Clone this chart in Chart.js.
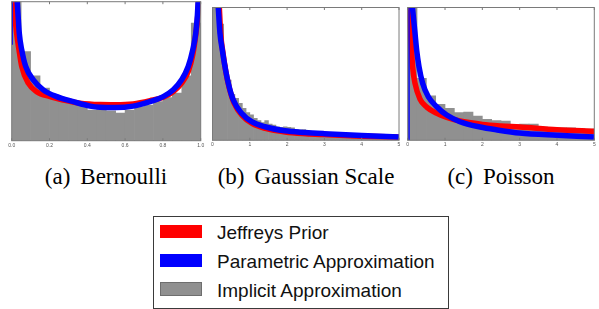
<!DOCTYPE html>
<html>
<head>
<meta charset="utf-8">
<script src="https://cdn.jsdelivr.net/npm/chart.js@4.4.1/dist/chart.umd.min.js"></script>
<style>
  body { margin: 0; background: #fff; width: 599px; height: 309px; overflow: hidden; position: relative; }
  canvas { position: absolute; top: 0; }
  .cap { position: absolute; top: 165px; width: 240px; text-align: center; white-space: nowrap;
         font-family: "Liberation Serif", "Times New Roman", Times, "DejaVu Serif", serif;
         font-size: 23px; line-height: 23px; color: #000; }
  .cap span { margin-left: 10px; }
  #legend { position: absolute; left: 153px; top: 216px; width: 294px; height: 91px; border: 1px solid #3a3a3a; background: #fff; }
  .sw { position: absolute; left: 6px; width: 42px; height: 13px; }
  .lt { position: absolute; left: 63px; font-family: "Liberation Sans", Arial, Helvetica, sans-serif;
        font-size: 19px; line-height: 19px; color: #111; white-space: nowrap; }
</style>
</head>
<body>
<canvas id="bern" width="206" height="152" style="left:0px"></canvas>
<canvas id="gauss" width="196" height="152" style="left:206px"></canvas>
<canvas id="pois" width="197" height="152" style="left:402px"></canvas>

<div class="cap" style="left:-14px">(a)<span>Bernoulli</span></div>
<div class="cap" style="left:186px">(b)<span>Gaussian Scale</span></div>
<div class="cap" style="left:381px">(c)<span>Poisson</span></div>

<div id="legend">
  <div class="sw" style="top:8px;background:#ff0000"></div>
  <div class="lt" style="top:6px">Jeffreys Prior</div>
  <div class="sw" style="top:37px;background:#0000ff"></div>
  <div class="lt" style="top:35px">Parametric Approximation</div>
  <div class="sw" style="top:65px;background:#909090;border:1px solid #6e6e6e;width:40px;height:12px"></div>
  <div class="lt" style="top:64px">Implicit Approximation</div>
</div>

<script>
// values; y is in % of the plot height (100 = top frame)

// (a) Bernoulli
const bernBinWidth = 0.05;
const bernHist = [105, 64.2, 46.6, 37.8, 33, 30.1, 28.1, 25.7, 22.1, 23.4,
                  21.4, 19.8, 22.1, 24.5, 25.7, 28.1, 31, 34.2, 46.6, 84.6];
const bernJeffX = [0.012, 0.0175, 0.026, 0.0386, 0.053, 0.088, 0.132, 0.203, 0.273, 0.361, 0.467,
                   0.55, 0.643, 0.732, 0.802, 0.855, 0.899, 0.934, 0.958, 0.975, 0.984, 0.989];
const bernJeffY = [102, 89.4, 77.4, 65.4, 53.4, 41.4, 35.3, 31.7, 29.3, 27, 26,
                   25.9, 26.5, 28.8, 31.3, 35.3, 41.4, 49.7, 61.8, 77.4, 89.4, 102];
const bernParamX = [0.026, 0.029, 0.04, 0.053, 0.074, 0.114, 0.167, 0.238, 0.326, 0.414, 0.467,
                    0.55, 0.643, 0.732, 0.802, 0.855, 0.899, 0.934, 0.958, 0.974, 0.982, 0.987];
const bernParamY = [104, 100, 77.4, 65.4, 53.4, 43.8, 36.6, 31.7, 28.1, 24.9, 24,
                    23.8, 24.9, 28.1, 31.7, 36.6, 43.8, 53.4, 65.4, 77.4, 89.4, 102];
const bernStartX = [0.003, 0.003];
const bernStartY = [69, 102];
const bernTicks = ['0.0', '0.2', '0.4', '0.6', '0.8', '1.0'];

// (b) Gaussian Scale
const gaussBinWidth = 0.1;
const gaussHist = [110, 110, 87.6, 56.7, 45.4, 34.6, 31.6, 27.9, 24.1, 20.8,
                   19.1, 16.6, 14.8, 13.3, 14.8, 12.3, 11.5, 10.2, 9.8, 10.2,
                   9.8, 9.3, 8.3, 7.8, 8.1, 7, 6.6, 6.2, 5.9, 5.5,
                   4.5, 4.2, 4.0, 3.8, 1.8, 1.8, 3.2, 3.0, 2.8, 1.6,
                   3.0, 2.8, 2.6, 1.5, 1.6, 2.5, 2.0, 1.5, 2.2, 1.8];
const gaussJeffX = [0.18, 0.22, 0.28, 0.35, 0.44, 0.58, 0.8, 1.07, 1.42, 1.95, 2.5, 3.0, 4.0, 5.0];
const gaussJeffY = [102, 80, 66, 53, 40.5, 28, 18.5, 12.5, 9, 6.3, 5, 4.3, 3.1, 2.4];
const gaussParamX = [0.15, 0.2, 0.263, 0.335, 0.424, 0.557, 0.78, 1.05, 1.405, 1.94, 2.476, 3.0, 4.0, 5.0];
const gaussParamY = [102, 80.6, 68, 55.4, 42.9, 30.3, 20.3, 14, 10.2, 7.2, 5.9, 5.0, 3.6, 2.5];
const gaussTicks = ['0', '1', '2', '3', '4', '5'];

// (c) Poisson
const poisBinWidth = 0.25;
const poisHist = [110, 46.7, 33.4, 27.1, 24.1, 20.8, 21.3, 18.3, 15.8, 14.9,
                  14.5, 12, 12.3, 12.3, 10, 9.6, 9.3, 9.3, 8.9, 8.5];
const poisJeffX = [0.03, 0.05, 0.08, 0.133, 0.196, 0.33, 0.51, 0.78, 1.05, 1.4, 2.0, 2.5, 3.0, 4.0, 5.0];
const poisJeffY = [102, 92, 80, 55, 43, 31, 25, 20.3, 17.3, 14.5, 12, 10.8, 10, 8, 6.8];
const poisParamX = [0.12, 0.196, 0.24, 0.303, 0.4, 0.552, 0.777, 1.045, 1.4, 1.94, 2.4, 3.0, 4.0, 5.0];
const poisParamY = [102, 80.6, 68, 55.4, 42.9, 32.8, 25.3, 19, 14, 10, 7.8, 5.5, 3.8, 2.5];
const poisStartX = [0.035, 0.035];
const poisStartY = [0, 102];
const poisTicks = ['0', '1', '2', '3', '4', '5'];

const RED = '#ff0000', BLUE = '#0000ff', GRAY = '#909090';

function pts(xs, ys) { return xs.map((x, i) => ({ x: x, y: ys[i] })); }
function bins(h, w) { return h.map((v, i) => ({ x: (i + 0.5) * w, y: v })); }

// matplotlib-like frame with inward ticks
const framePlugin = {
  id: 'frame',
  afterDraw(chart) {
    const ctx = chart.ctx, a = chart.chartArea, xs = chart.scales.x;
    ctx.save();
    ctx.strokeStyle = '#7a7a7a';
    ctx.lineWidth = 1;
    ctx.strokeRect(a.left, a.top, a.right - a.left, a.bottom - a.top);
    ctx.beginPath();
    xs.ticks.forEach((t, i) => {
      const px = xs.getPixelForTick(i);
      ctx.moveTo(px, a.bottom); ctx.lineTo(px, a.bottom - 2.5);
      ctx.moveTo(px, a.top); ctx.lineTo(px, a.top + 2.5);
    });
    ctx.stroke();
    ctx.restore();
  }
};

function makePlot(id, hist, binWidth, jeff, param, start, tickLabels, pad, axisH) {
  const xMax = binWidth * hist.length;
  const step = xMax / (tickLabels.length - 1);
  const datasets = [
    { type: 'line', data: param, borderColor: BLUE, borderWidth: 5.5, pointRadius: 0,
      cubicInterpolationMode: 'monotone', clip: 0, order: 0 },
    { type: 'line', data: jeff, borderColor: RED, borderWidth: 5.5, pointRadius: 0,
      cubicInterpolationMode: 'monotone', clip: 0, order: 1 },
    { type: 'bar', data: hist, backgroundColor: GRAY, borderWidth: 0,
      barPercentage: 1, categoryPercentage: 1, clip: 0, order: 3 }
  ];
  if (start) {
    datasets.push({ type: 'line', data: start, borderColor: BLUE, borderWidth: 1.5,
      pointRadius: 0, tension: 0, clip: 0, order: 0 });
  }
  new Chart(document.getElementById(id), {
    type: 'bar',
    data: { datasets: datasets },
    options: {
      responsive: false,
      animation: false,
      devicePixelRatio: 1,
      layout: { padding: pad },
      plugins: { legend: { display: false }, tooltip: { enabled: false } },
      scales: {
        x: {
          type: 'linear', min: 0, max: xMax, offset: false,
          grid: { display: false, drawTicks: false },
          border: { display: false },
          afterFit: (s) => { s.height = axisH; },
          ticks: {
            stepSize: step, autoSkip: false, maxRotation: 0, padding: 1.6,
            color: '#555', font: { family: 'Liberation Sans', size: 5 },
            callback: (v) => tickLabels[Math.round(v / step)]
          }
        },
        y: { display: false, min: 0, max: 100 }
      }
    },
    plugins: [framePlugin]
  });
}

makePlot('bern', bins(bernHist, bernBinWidth), bernBinWidth,
  pts(bernJeffX, bernJeffY), pts(bernParamX, bernParamY), pts(bernStartX, bernStartY),
  bernTicks, { left: 11.7, right: 5.3, top: 1.7, bottom: 0 }, 11.3);
makePlot('gauss', bins(gaussHist, gaussBinWidth), gaussBinWidth,
  pts(gaussJeffX, gaussJeffY), pts(gaussParamX, gaussParamY), null,
  gaussTicks, { left: 6.5, right: 2.7, top: 7.5, bottom: 0 }, 11.7);
makePlot('pois', bins(poisHist, poisBinWidth), poisBinWidth,
  pts(poisJeffX, poisJeffY), pts(poisParamX, poisParamY), pts(poisStartX, poisStartY),
  poisTicks, { left: 5.7, right: 4.7, top: 7.5, bottom: 0 }, 11.7);
</script>
</body>
</html>
